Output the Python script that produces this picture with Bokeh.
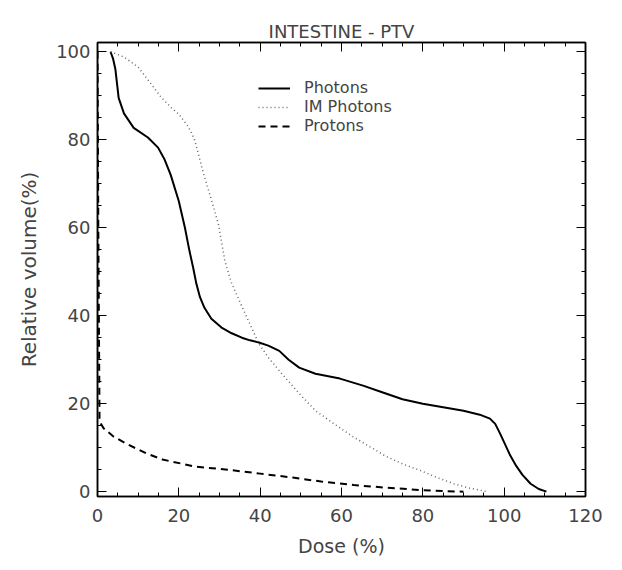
from bokeh.plotting import figure
from bokeh.models import LinearAxis, SingleIntervalTicker, Legend, LegendItem, Range1d
from bokeh.embed import file_html
from bokeh.resources import INLINE

# Data (dose %, relative volume %)
photons_x = [3.2, 3.8, 4.4, 5.2, 6.5, 8.9, 12.4, 14.9, 16.5, 18, 20, 21.5, 22.6, 23.5, 24.3, 25.2, 26.3, 28, 30.5, 33, 35.5, 37.5, 39.7, 42, 44.7, 47, 49.6, 53.6, 59.6, 65.3, 70, 75, 80, 85, 90, 94, 96.5, 97.8, 99, 100.2, 101.5, 103, 104.5, 106.5, 108.5, 110.4]
photons_y = [100, 98.5, 96, 89.5, 86, 82.7, 80.5, 78.2, 75.5, 72, 66, 60, 54.8, 51, 47.3, 44.2, 41.8, 39.3, 37.3, 36, 35, 34.4, 33.9, 33.2, 32, 30, 28.2, 26.8, 25.7, 24.1, 22.6, 21, 20, 19.2, 18.4, 17.5, 16.6, 15.4, 13.2, 10.8, 8.2, 5.8, 3.8, 1.8, 0.6, 0]
im_x = [3.2, 6.5, 9.9, 12.5, 15.6, 18, 20, 22.3, 23.8, 24.8, 26, 27.3, 28.6, 29.8, 31.3, 33, 36, 39.7, 42, 44.7, 49.6, 53.6, 59.6, 62.8, 67, 71, 75, 79.4, 83.5, 87.6, 91.5, 95.8]
im_y = [100, 98.8, 96.6, 93.5, 89.7, 87.4, 85.8, 83, 80.2, 76.8, 72.5, 68.5, 64.5, 60.5, 52.5, 47.3, 41.1, 33.6, 30.5, 27.5, 22.3, 18.4, 14.5, 12.5, 10.2, 8.0, 6.3, 4.8, 3.2, 1.8, 0.8, 0]
protons_x = [0, 0.2, 0.5, 1.5, 4, 7.5, 12, 16, 24, 32, 40, 48, 55, 63, 71, 79, 86, 90]
protons_y = [100, 60, 16, 14.4, 12.5, 10.7, 8.7, 7.3, 5.7, 5.0, 4.1, 3.2, 2.3, 1.5, 0.9, 0.4, 0.1, 0]

title = "INTESTINE - PTV"
xlabel = "Dose (%)"
ylabel = "Relative volume(%)"
series_names = ["Photons", "IM Photons", "Protons"]
FONT = "DejaVu Sans"

p = figure(frame_width=488, frame_height=454, output_backend="svg", toolbar_location=None,
           x_range=Range1d(0, 120), y_range=Range1d(-1.1, 102.1),
           min_border_left=97, min_border_right=30, min_border_top=42, min_border_bottom=66,
           x_axis_label=xlabel, y_axis_label=ylabel)
p.title.text = title
p.title.align = "center"
p.title.text_font = FONT
p.title.text_font_size = "18px"
p.title.text_font_style = "normal"
p.title.standoff = 2
p.grid.visible = False
p.outline_line_color = "black"
p.outline_line_width = 1.5
p.background_fill_color = "white"
p.border_fill_color = "white"

for ax in (p.xaxis[0], p.yaxis[0]):
    ax.ticker = SingleIntervalTicker(interval=20, num_minor_ticks=4)
    ax.major_tick_in = 9
    ax.major_tick_out = 0
    ax.minor_tick_in = 4
    ax.minor_tick_out = 0
    ax.axis_line_width = 1.5
    ax.major_label_text_font = FONT
    ax.major_label_text_font_size = "18px"
    ax.axis_label_text_font = FONT
    ax.axis_label_text_font_style = "normal"
p.xaxis[0].axis_label_text_font_size = "19px"
p.yaxis[0].axis_label_text_font_size = "20px"
p.xaxis[0].major_label_standoff = 12
p.xaxis[0].axis_label_standoff = 10
p.yaxis[0].major_label_standoff = 7
p.yaxis[0].axis_label_standoff = 12

for loc in ("above", "right"):
    ax = LinearAxis(ticker=SingleIntervalTicker(interval=20, num_minor_ticks=4),
                    major_tick_in=9, major_tick_out=0, minor_tick_in=4, minor_tick_out=0,
                    major_label_text_font_size="0px", axis_line_width=1.5)
    ax.major_label_text_color = None
    p.add_layout(ax, loc)

r1 = p.line(photons_x, photons_y, line_color="black", line_width=2)
r2 = p.line(im_x, im_y, line_color="#666666", line_width=1.5, line_dash="1 3")
r3 = p.line(protons_x, protons_y, line_color="black", line_width=2, line_dash="7 5")

legend = Legend(items=[LegendItem(label=series_names[0], renderers=[r1]),
                       LegendItem(label=series_names[1], renderers=[r2]),
                       LegendItem(label=series_names[2], renderers=[r3])],
                location=(161, 361), border_line_color=None, background_fill_alpha=0,
                label_text_font=FONT, label_text_font_size="16px",
                glyph_width=32, glyph_height=16, label_height=16, spacing=0,
                padding=0, margin=0, label_standoff=14)
p.add_layout(legend, "center")

open("out.html", "w").write(file_html(p, INLINE))
